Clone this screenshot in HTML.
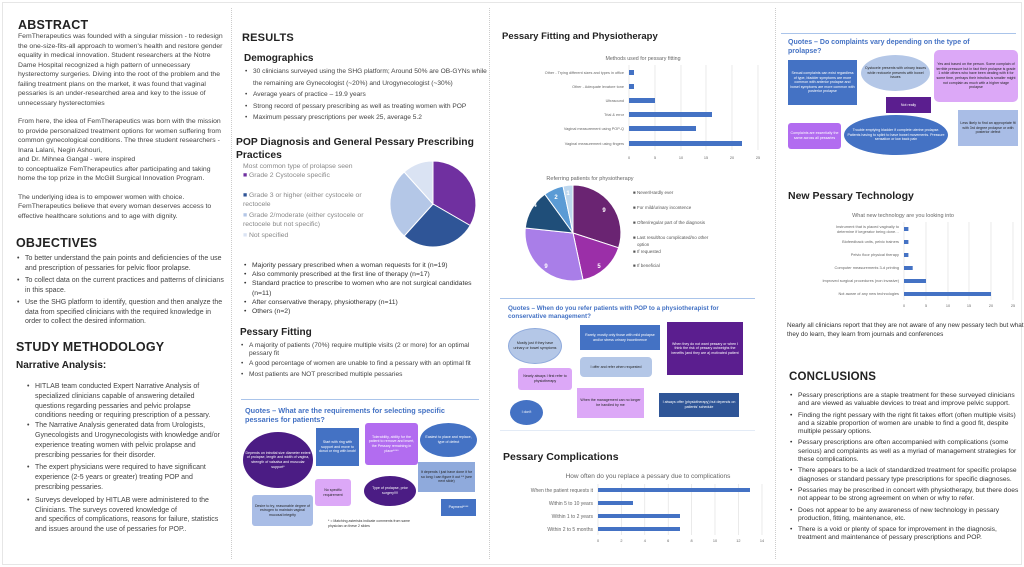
<!DOCTYPE html>
<html><head><meta charset="utf-8"><style>
*{margin:0;padding:0;box-sizing:border-box}
body{width:1024px;height:567px;background:#fff;font-family:"Liberation Sans",sans-serif;color:#333;position:relative;overflow:hidden}
.a{position:absolute}
.t{font-size:7px;line-height:9.5px;color:#444}
h1{font-size:12.5px;line-height:14px;font-weight:bold;color:#222;letter-spacing:.2px}
h2{font-size:10px;line-height:12px;font-weight:bold;color:#222}
ul{list-style:none}
li{position:relative;padding-left:9px}
li:before{content:"•";position:absolute;left:1px}
.div{position:absolute;top:8px;bottom:8px;border-left:1px dotted #ccc}
.q{position:absolute;color:#fff;font-size:3.6px;line-height:4.6px;text-align:center;display:flex;align-items:center;justify-content:center;padding:2px}
.qt{position:absolute;color:#4472c4;font-weight:bold;font-size:7.3px;line-height:9px}
svg text{font-family:"Liberation Sans",sans-serif}
</style></head><body>
<div class="a" style="left:2px;top:2px;right:2px;bottom:2px;border:1px solid #e6e6e6"></div>
<div class="div" style="left:231px"></div>
<div class="div" style="left:489px"></div>
<div class="div" style="left:775px"></div>

<!-- Column 1 -->
<div class="a" style="left:18px;top:18px;width:210px">
<h1>ABSTRACT</h1>
<div class="t" style="font-size:6.85px">FemTherapeutics was founded with a singular mission - to redesign the one-size-fits-all approach to women's health and restore gender equality in medical innovation. Student researchers at the Notre Dame Hospital recognized a high pattern of unnecessary hysterectomy surgeries. Diving into the root of the problem and the failing treatment plans on the market, it was found that vaginal pessaries is an under-researched area and key to the issue of unnecessary hysterectomies</div>
<div class="t" style="margin-top:9px;font-size:6.85px">From here, the idea of FemTherapeutics was born with the mission to provide personalized treatment options for women suffering from common gynecological conditions. The three student researchers - Inara Lalani, Negin Ashouri,<br>and Dr. Mihnea Gangal - were inspired<br>to conceptualize FemTherapeutics after participating and taking home the top prize in the McGill Surgical Innovation Program.</div>
<div class="t" style="margin-top:9px;font-size:6.85px">The underlying idea is to empower women with choice. FemTherapeutics believe that every woman deserves access to effective healthcare solutions and to age with dignity.</div>
</div>
<div class="a" style="left:16px;top:236px;width:212px">
<h1>OBJECTIVES</h1>
<ul class="t" style="margin-top:4px">
<li style="margin-bottom:3px">To better understand the pain points and deficiencies of the use and prescription of pessaries for pelvic floor prolapse.</li>
<li style="margin-bottom:3px">To collect data on the current practices and patterns of clinicians in this space.</li>
<li>Use the SHG platform to identify, question and then analyze the data from specified clinicians with the required knowledge in order to collect the desired information.</li>
</ul>
</div>
<div class="a" style="left:16px;top:340px;width:212px">
<h1>STUDY METHODOLOGY</h1>
<h2 style="margin-top:6px">Narrative Analysis:</h2>
</div>
<ul class="a t" style="left:26px;top:382px;width:194px;line-height:9.8px">
<li>HITLAB team conducted Expert Narrative Analysis of specialized clinicians capable of answering detailed questions regarding pessaries and pelvic prolapse conditions needing or requiring prescription of a pessary.</li>
<li style="margin-bottom:3px">The Narrative Analysis generated data from Urologists, Gynecologists and Urogynecologists with knowledge and/or experience treating women with pelvic prolapse and prescribing pessaries for their disorder.</li>
<li style="margin-bottom:3px">The expert physicians were required to have significant experience (2-5 years or greater) treating POP and prescribing pessaries.</li>
<li>Surveys developed by HITLAB were administered to the Clinicians. The surveys covered knowledge of<br>and specifics of complications, reasons for failure, statistics and issues around the use of pessaries for POP..</li>
</ul>

<!-- Column 2 -->
<div class="a" style="left:242px;top:31px"><h1 style="font-size:11px">RESULTS</h1></div>
<div class="a" style="left:244px;top:53px"><h2>Demographics</h2></div>
<ul class="a t" style="left:244px;top:66px;width:245px;line-height:11.5px;font-size:6.6px">
<li>30 clinicians surveyed using the SHG platform; Around 50% are OB-GYNs while the remaining are Gynecologist (~20%) and Urogynecologist (~30%)</li>
<li>Average years of practice – 19.9 years</li>
<li>Strong record of pessary prescribing as well as treating women with POP</li>
<li>Maximum pessary prescriptions per week 25, average 5.2</li>
</ul>
<div class="a" style="left:236px;top:136px;width:240px"><h2 style="font-size:10.3px;line-height:13px">POP Diagnosis and General Pessary Prescribing Practices</h2></div>
<div class="a t" style="left:243px;top:163px;width:146px;color:#888;font-size:6.8px;line-height:8.5px">
<div>Most common type of prolapse seen</div>
<div><span style="color:#7030a0">■</span> Grade 2 Cystocele specific</div>
<div style="margin-top:12px"><span style="color:#2f5597">■</span> Grade 3 or higher (either cystocele or rectocele</div>
<div style="margin-top:3px"><span style="color:#b4c7e7">■</span> Grade 2/moderate (either cystocele or rectocele but not specific)</div>
<div style="margin-top:3px"><span style="color:#dae3f3">■</span> Not specified</div>
</div>
<svg class="a" style="left:0;top:0" width="1024" height="567">
<g stroke="#fff" stroke-width="1">
<path d="M433,204 L433,161 A43,43 0 0 1 470.2,225.5 Z" fill="#7030a0"/>
<path d="M433,204 L470.2,225.5 A43,43 0 0 1 404.2,236 Z" fill="#2f5597"/>
<path d="M433,204 L404.2,236 A43,43 0 0 1 404.2,172 Z" fill="#b4c7e7"/>
<path d="M433,204 L404.2,172 A43,43 0 0 1 433,161 Z" fill="#dae3f3"/>
</g>
<g stroke="#fff" stroke-width="1">
<path d="M573,233 L573,185 A48,48 0 0 1 618.6,247.8 Z" fill="#6a2472"/>
<path d="M573,233 L618.6,247.8 A48,48 0 0 1 583,279.9 Z" fill="#9b2fa8"/>
<path d="M573,233 L583,279.9 A48,48 0 0 1 525.3,228 Z" fill="#a97ee8"/>
<path d="M573,233 L525.3,228 A48,48 0 0 1 544.8,194.2 Z" fill="#1f4e79"/>
<path d="M573,233 L544.8,194.2 A48,48 0 0 1 563,186.1 Z" fill="#5b9bd5"/>
<path d="M573,233 L563,186.1 A48,48 0 0 1 573,185 Z" fill="#bdd7ee"/>
</g>
<g fill="#fff" font-size="6" font-weight="bold" text-anchor="middle">
<text x="604" y="212">9</text><text x="599" y="268">5</text><text x="546" y="268">9</text><text x="535" y="207">4</text><text x="556" y="199">2</text><text x="568" y="195">1</text>
</g>
<g font-size="4.5" fill="#555">
<text x="633" y="194">■ Never/Hardly ever</text>
<text x="633" y="209">■ For mild/urinary incontence</text>
<text x="633" y="224">■ Often/regular part of the diagnosis</text>
<text x="633" y="239">■ Last result/too complicated/no other</text>
<text x="637" y="246">option</text>
<text x="633" y="253">■ If requested</text>
<text x="633" y="267">■ If beneficial</text>
</g>
<text x="590" y="180" font-size="5.5" fill="#666" text-anchor="middle">Referring patients for physiotherapy</text>

<text x="643" y="60" font-size="5.3" fill="#666" text-anchor="middle">Methods used for pessary fitting</text>
<g stroke="#ddd" stroke-width=".6">
<line x1="629" y1="65" x2="629" y2="150"/><line x1="655" y1="65" x2="655" y2="150"/><line x1="681" y1="65" x2="681" y2="150"/><line x1="706" y1="65" x2="706" y2="150"/><line x1="732" y1="65" x2="732" y2="150"/><line x1="758" y1="65" x2="758" y2="150"/>
</g>
<g fill="#4472c4">
<rect x="629" y="70" width="5" height="5"/><rect x="629" y="84" width="5" height="5"/><rect x="629" y="98" width="26" height="5"/><rect x="629" y="112" width="83" height="5"/><rect x="629" y="126" width="67" height="5"/><rect x="629" y="141" width="113" height="5"/>
</g>
<g font-size="3.8" fill="#666" text-anchor="end">
<text x="624" y="74">Other - Trying different sizes and types in office</text>
<text x="624" y="88">Other - Adequate levatore tone</text>
<text x="624" y="102">Ultrasound</text>
<text x="624" y="116">Trial &amp; error</text>
<text x="624" y="130">Vaginal measurement using POP-Q</text>
<text x="624" y="145">Vaginal measurement using fingers</text>
</g>
<g font-size="3.8" fill="#666" text-anchor="middle">
<text x="629" y="159">0</text><text x="655" y="159">5</text><text x="681" y="159">10</text><text x="706" y="159">15</text><text x="732" y="159">20</text><text x="758" y="159">25</text>
</g>

<text x="648" y="478" font-size="6.5" fill="#666" text-anchor="middle">How often do you replace a pessary due to complications</text>
<g stroke="#ddd" stroke-width=".6">
<line x1="598" y1="484" x2="598" y2="535"/><line x1="621.4" y1="484" x2="621.4" y2="535"/><line x1="644.8" y1="484" x2="644.8" y2="535"/><line x1="668.2" y1="484" x2="668.2" y2="535"/><line x1="691.6" y1="484" x2="691.6" y2="535"/><line x1="715" y1="484" x2="715" y2="535"/><line x1="738.4" y1="484" x2="738.4" y2="535"/><line x1="762" y1="484" x2="762" y2="535"/>
</g>
<g fill="#4472c4">
<rect x="598" y="488" width="152" height="4"/><rect x="598" y="501" width="35" height="4"/><rect x="598" y="514" width="82" height="4"/><rect x="598" y="527" width="82" height="4"/>
</g>
<g font-size="5" fill="#666" text-anchor="end">
<text x="593" y="492">When the patient requests it</text><text x="593" y="505">Within 5 to 10 years</text><text x="593" y="518">Within 1 to 2 years</text><text x="593" y="531">Within 2 to 5 months</text>
</g>
<g font-size="3.8" fill="#666" text-anchor="middle">
<text x="598" y="542">0</text><text x="621.4" y="542">2</text><text x="644.8" y="542">4</text><text x="668.2" y="542">6</text><text x="691.6" y="542">8</text><text x="715" y="542">10</text><text x="738.4" y="542">12</text><text x="762" y="542">14</text>
</g>

<text x="903" y="217" font-size="5.5" fill="#666" text-anchor="middle">What new technology are you looking into</text>
<g stroke="#ddd" stroke-width=".6">
<line x1="904" y1="222" x2="904" y2="300"/><line x1="926" y1="222" x2="926" y2="300"/><line x1="948" y1="222" x2="948" y2="300"/><line x1="969" y1="222" x2="969" y2="300"/><line x1="991" y1="222" x2="991" y2="300"/><line x1="1013" y1="222" x2="1013" y2="300"/>
</g>
<g fill="#4472c4">
<rect x="904" y="227" width="4.4" height="4"/><rect x="904" y="240" width="4.4" height="4"/><rect x="904" y="253" width="4.4" height="4"/><rect x="904" y="266" width="8.7" height="4"/><rect x="904" y="279" width="22" height="4"/><rect x="904" y="292" width="87" height="4"/>
</g>
<g font-size="3.9" fill="#666" text-anchor="end">
<text x="899" y="228">Instrument that is placed vaginally to</text><text x="899" y="233">determine if kegerator being done…</text>
<text x="899" y="243">Biofeedback units, pelvic trainers</text>
<text x="899" y="256">Pelvic floor physical therapy</text>
<text x="899" y="269">Computer measurements 3-d printing</text>
<text x="899" y="282">Improved surgical procedures (non invasive)</text>
<text x="899" y="295">Not aware of any new technologies</text>
</g>
<g font-size="3.8" fill="#666" text-anchor="middle">
<text x="904" y="307">0</text><text x="926" y="307">5</text><text x="948" y="307">10</text><text x="969" y="307">15</text><text x="991" y="307">20</text><text x="1013" y="307">25</text>
</g>
</svg>

<ul class="a t" style="left:243px;top:261px;width:245px;font-size:6.8px;line-height:9.2px;color:#333">
<li>Majority pessary prescribed when a woman requests for it (n=19)</li>
<li>Also commonly prescribed at the first line of therapy (n=17)</li>
<li>Standard practice to prescribe to women who are not surgical candidates (n=11)</li>
<li>After conservative therapy, physiotherapy (n=11)</li>
<li>Others (n=2)</li>
</ul>
<div class="a" style="left:240px;top:327px"><h2>Pessary Fitting</h2></div>
<ul class="a t" style="left:240px;top:342px;width:250px;line-height:8.2px;font-size:6.6px">
<li style="margin-bottom:2px">A majority of patients (70%) require multiple visits (2 or more) for an optimal pessary fit</li>
<li style="margin-bottom:2px">A good percentage of women are unable to find a pessary with an optimal fit</li>
<li>Most patients are NOT prescribed multiple pessaries</li>
</ul>

<div class="a" style="left:241px;top:399px;width:238px;height:1px;background:#aac4ea"></div>
<div class="qt" style="left:245px;top:406px;width:230px">Quotes – What are the requirements for selecting specific pessaries for patients?</div>
<div class="q" style="left:243px;top:432px;width:70px;height:56px;background:#4b1c84;border-radius:50%">Depends on introital size diameter extent of prolapse, length and width of vagina, strength of valsalva and muscular support*</div>
<div class="q" style="left:316px;top:428px;width:43px;height:38px;background:#4472c4">Start with ring with support and move to donut or ring with knob!</div>
<div class="q" style="left:365px;top:423px;width:53px;height:42px;background:#b26cf0;border-radius:3px">Tolerability, ability for the patient to remove and insert, the Pessary remaining in place****</div>
<div class="q" style="left:420px;top:423px;width:57px;height:34px;background:#4472c4;border-radius:50%">Easiest to place and replace, type of defect</div>
<div class="q" style="left:418px;top:462px;width:57px;height:30px;background:#8faadc;color:#222">It depends I just have done it for so long I can figure it out ** (see next slide)</div>
<div class="q" style="left:315px;top:479px;width:36px;height:27px;background:#dca8f7;color:#222;border-radius:3px">No specific requirement</div>
<div class="q" style="left:364px;top:476px;width:52px;height:30px;background:#4b1c84;border-radius:50%">Type of prolapse, prior surgery!!!!</div>
<div class="q" style="left:252px;top:495px;width:61px;height:31px;background:#a9bde6;color:#222;border-radius:3px">Desire to try, reasonable degree of estrogen to maintain vaginal mucosal integrity</div>
<div class="q" style="left:441px;top:499px;width:35px;height:17px;background:#4472c4">Payment****</div>
<div class="a" style="left:328px;top:519px;font-size:3.5px;line-height:4.5px;color:#333;width:95px">* = Matching asterisks indicate comments from same physician on these 2 slides</div>

<!-- Column 3 -->
<div class="a" style="left:502px;top:31px"><h2 style="font-size:9.5px">Pessary Fitting and Physiotherapy</h2></div>
<div class="a" style="left:500px;top:298px;width:255px;height:1px;background:#aac4ea"></div>
<div class="qt" style="left:508px;top:305px;width:240px;font-size:6.3px;line-height:8px">Quotes – When do you refer patients with POP to a physiotherapist for conservative management?</div>
<div class="q" style="left:508px;top:328px;width:54px;height:36px;background:#b4c7e7;color:#222;border-radius:50%;border:.5px solid #8faadc">Mostly just if they have urinary or bowel symptoms</div>
<div class="q" style="left:518px;top:368px;width:54px;height:22px;background:#dca8f7;color:#222;border-radius:3px">Nearly always I first refer to physiotherapy</div>
<div class="q" style="left:510px;top:400px;width:33px;height:25px;background:#4472c4;border-radius:50%">I don't</div>
<div class="q" style="left:580px;top:325px;width:80px;height:25px;background:#4472c4">Rarely, mostly only those with mild prolapse and/or stress urinary incontinence</div>
<div class="q" style="left:580px;top:357px;width:72px;height:20px;background:#b4c7e7;color:#222;border-radius:4px">I offer and refer when requested</div>
<div class="q" style="left:577px;top:388px;width:67px;height:30px;background:#dca8f7;color:#222">When the management can no longer be handled by me</div>
<div class="q" style="left:667px;top:322px;width:76px;height:53px;background:#5b1e8f">When they do not want pessary or when I think the risk of pessary outweighs the benefits (and they are a) motivated patient</div>
<div class="q" style="left:659px;top:393px;width:80px;height:24px;background:#2f5597">I always offer (physiotherapy) but depends on patients' schedule</div>
<div class="a" style="left:500px;top:430px;width:255px;height:1px;background:#e3ebf6"></div>
<div class="a" style="left:503px;top:451px"><h2 style="font-size:10.5px">Pessary Complications</h2></div>

<!-- Column 4 -->
<div class="a" style="left:781px;top:33px;width:235px;height:1px;background:#aac4ea"></div>
<div class="qt" style="left:788px;top:38px;width:190px;font-size:7px;line-height:9px">Quotes – Do complaints vary depending on the type of prolapse?</div>
<div class="q" style="left:788px;top:60px;width:69px;height:45px;background:#4472c4">Sexual complaints can exist regardless of type, bladder symptoms are more common with anterior prolapse and bowel symptoms are more common with posterior prolapse</div>
<div class="q" style="left:861px;top:55px;width:69px;height:36px;background:#b4c7e7;color:#222;border-radius:50%">Cystocele presents with urinary issues while rectocele presents with bowel issues</div>
<div class="q" style="left:886px;top:97px;width:45px;height:16px;background:#5b1e8f">Not really</div>
<div class="q" style="left:934px;top:50px;width:84px;height:52px;background:#dca8f7;color:#222;border-radius:5px">Yes and based on the person. Some complain of terrible pressure but in fact their prolapse is grade 1 while others who have been dealing with it for some time, perhaps their introitus is smaller might not complain as much with a higher stage prolapse</div>
<div class="q" style="left:788px;top:123px;width:53px;height:26px;background:#b26cf0;border-radius:3px">Complaints are essentially the same across all pessaries</div>
<div class="q" style="left:844px;top:115px;width:104px;height:40px;background:#4472c4;border-radius:50%">Trouble emptying bladder if complete uterine prolapse. Patients having to splint to have bowel movements. Pressure sensation or low back pain</div>
<div class="q" style="left:958px;top:110px;width:60px;height:36px;background:#a9bde6;color:#222">Less likely to find an appropriate fit with 3rd degree prolapse or with posterior defect</div>
<div class="a" style="left:788px;top:190px"><h2 style="font-size:10.5px">New Pessary Technology</h2></div>
<div class="a t" style="left:787px;top:322px;width:237px;font-size:6.4px;line-height:8.6px;color:#333">Nearly all clinicians report that they are not aware of any new pessary tech but what they do learn, they learn from journals and conferences</div>
<div class="a" style="left:789px;top:370px"><h1 style="font-size:11.5px">CONCLUSIONS</h1></div>
<ul class="a t" style="left:789px;top:392px;width:230px;font-size:6.7px;line-height:8.3px;color:#333">
<li style="margin-bottom:3px">Pessary prescriptions are a staple treatment for these surveyed clinicians and are viewed as valuable devices to treat and improve pelvic support.</li>
<li style="margin-bottom:3px">Finding the right pessary with the right fit takes effort (often multiple visits) and a sizable proportion of women are unable to find a good fit, despite multiple pessary options.</li>
<li style="margin-bottom:3px">Pessary prescriptions are often accompanied with complications (some serious) and complaints as well as a myriad of management strategies for these complications.</li>
<li style="margin-bottom:3px">There appears to be a lack of standardized treatment for specific prolapse diagnoses or standard pessary type prescriptions for specific diagnoses.</li>
<li style="margin-bottom:3px">Pessaries may be prescribed in concert with physiotherapy, but there does not appear to be strong agreement on when or why to refer.</li>
<li style="margin-bottom:3px">Does not appear to be any awareness of new technology in pessary production, fitting, maintenance, etc.</li>
<li>There is a void or plenty of space for improvement in the diagnosis, treatment and maintenance of pessary prescriptions and POP.</li>
</ul>
</body></html>
